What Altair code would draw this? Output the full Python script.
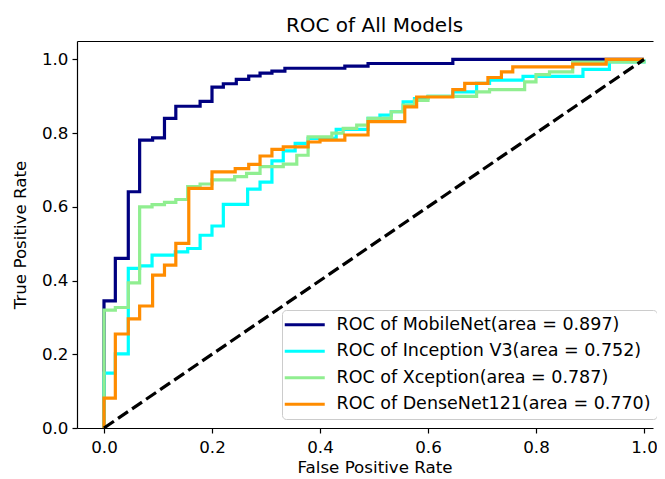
import altair as alt
import pandas as pd

models = [
    "ROC of MobileNet(area = 0.897)",
    "ROC of Inception V3(area = 0.752)",
    "ROC of Xception(area = 0.787)",
    "ROC of DenseNet121(area = 0.770)",
]
colors = ["#000080", "#00ffff", "#90ee90", "#ff8c00"]

fpr_mobilenet = [0, 0, 0.021, 0.021, 0.045, 0.045, 0.066, 0.066, 0.090, 0.090, 0.112, 0.112,
                 0.133, 0.133, 0.178, 0.178, 0.200, 0.200, 0.221, 0.221, 0.245, 0.245, 0.268, 0.268,
                 0.289, 0.289, 0.311, 0.311, 0.335, 0.335, 0.446, 0.446, 0.489, 0.489, 0.646, 0.646, 1.0]
tpr_mobilenet = [0, 0.345, 0.345, 0.460, 0.460, 0.641, 0.641, 0.781, 0.781, 0.787, 0.787, 0.840,
                 0.840, 0.873, 0.873, 0.886, 0.886, 0.925, 0.925, 0.934, 0.934, 0.946, 0.946, 0.955,
                 0.955, 0.963, 0.963, 0.968, 0.968, 0.976, 0.976, 0.982, 0.982, 0.989, 0.989, 1.0, 1.0]

fpr_inception = [0, 0, 0.021, 0.021, 0.045, 0.045, 0.066, 0.066, 0.089, 0.089, 0.132, 0.132,
                 0.155, 0.155, 0.178, 0.178, 0.200, 0.200, 0.221, 0.221, 0.266, 0.266, 0.289, 0.289,
                 0.311, 0.311, 0.332, 0.332, 0.354, 0.354, 0.378, 0.378, 0.430, 0.430, 0.489, 0.489,
                 0.511, 0.511, 0.532, 0.532, 0.554, 0.554, 0.575, 0.575, 0.600, 0.600, 0.646, 0.646,
                 0.690, 0.690, 0.714, 0.714, 0.776, 0.776, 0.887, 0.887, 0.936, 0.936, 1.0, 1.0]
tpr_inception = [0, 0.149, 0.149, 0.201, 0.201, 0.433, 0.433, 0.440, 0.440, 0.469, 0.469, 0.478,
                 0.478, 0.487, 0.487, 0.523, 0.523, 0.548, 0.548, 0.607, 0.607, 0.648, 0.648, 0.667,
                 0.667, 0.725, 0.725, 0.752, 0.752, 0.772, 0.772, 0.786, 0.786, 0.810, 0.810, 0.840,
                 0.840, 0.849, 0.849, 0.858, 0.858, 0.885, 0.885, 0.894, 0.894, 0.900, 0.900, 0.912,
                 0.912, 0.935, 0.935, 0.944, 0.944, 0.954, 0.954, 0.973, 0.973, 0.993, 0.993, 1.0]

fpr_xception = [0, 0, 0.021, 0.021, 0.045, 0.045, 0.066, 0.066, 0.089, 0.089, 0.112, 0.112,
                0.133, 0.133, 0.155, 0.155, 0.178, 0.178, 0.200, 0.200, 0.242, 0.242, 0.264, 0.264,
                0.289, 0.289, 0.332, 0.332, 0.357, 0.357, 0.378, 0.378, 0.422, 0.422, 0.443, 0.443,
                0.468, 0.468, 0.489, 0.489, 0.532, 0.532, 0.554, 0.554, 0.575, 0.575, 0.600, 0.600,
                0.690, 0.690, 0.714, 0.714, 0.779, 0.779, 0.800, 0.800, 0.825, 0.825, 0.868, 0.868,
                1.0, 1.0]
tpr_xception = [0, 0.320, 0.320, 0.327, 0.327, 0.394, 0.394, 0.600, 0.600, 0.606, 0.606, 0.612,
                0.612, 0.620, 0.620, 0.655, 0.655, 0.662, 0.662, 0.673, 0.673, 0.682, 0.682, 0.691,
                0.691, 0.709, 0.709, 0.716, 0.716, 0.740, 0.740, 0.790, 0.790, 0.800, 0.800, 0.813,
                0.813, 0.822, 0.822, 0.840, 0.840, 0.858, 0.858, 0.876, 0.876, 0.889, 0.889, 0.900,
                0.900, 0.912, 0.912, 0.918, 0.918, 0.939, 0.939, 0.959, 0.959, 0.966, 0.966, 0.993,
                0.993, 1.0]

fpr_densenet = [0, 0, 0.021, 0.021, 0.045, 0.045, 0.066, 0.066, 0.090, 0.090, 0.112, 0.112,
                0.133, 0.133, 0.157, 0.157, 0.200, 0.200, 0.243, 0.243, 0.268, 0.268, 0.289, 0.289,
                0.311, 0.311, 0.332, 0.332, 0.378, 0.378, 0.400, 0.400, 0.446, 0.446, 0.489, 0.489,
                0.557, 0.557, 0.579, 0.579, 0.646, 0.646, 0.668, 0.668, 0.711, 0.711, 0.736, 0.736,
                0.757, 0.757, 0.868, 0.868, 0.930, 0.930, 1.0]
tpr_densenet = [0, 0.081, 0.081, 0.255, 0.255, 0.296, 0.296, 0.331, 0.331, 0.415, 0.415, 0.442,
                0.442, 0.501, 0.501, 0.650, 0.650, 0.695, 0.695, 0.704, 0.704, 0.715, 0.715, 0.738,
                0.738, 0.756, 0.756, 0.763, 0.763, 0.776, 0.776, 0.781, 0.781, 0.795, 0.795, 0.831,
                0.831, 0.871, 0.871, 0.898, 0.898, 0.918, 0.918, 0.935, 0.935, 0.951, 0.951, 0.966,
                0.966, 0.980, 0.980, 0.987, 0.987, 1.0, 1.0]

diag_fpr = [0.0, 1.0]
diag_tpr = [0.0, 1.0]

tick_values = [0.0, 0.2, 0.4, 0.6, 0.8, 1.0]

series = [
    (models[0], fpr_mobilenet, tpr_mobilenet),
    (models[1], fpr_inception, tpr_inception),
    (models[2], fpr_xception, tpr_xception),
    (models[3], fpr_densenet, tpr_densenet),
]
rows = []
idx = 0
for name, fx, ty in series:
    assert len(fx) == len(ty), name
    for a, b in zip(fx, ty):
        rows.append({"model": name, "fpr": a, "tpr": b, "idx": idx})
        idx += 1
df = pd.DataFrame(rows)
diag_df = pd.DataFrame({"fpr": diag_fpr, "tpr": diag_tpr})

FONT = "DejaVu Sans"
xscale = alt.Scale(domain=[-0.05, 1.0167], nice=False, zero=False)
yscale = alt.Scale(domain=[0, 1.05], nice=False, zero=False)

y_axis = alt.Axis(values=tick_values, format=".1f", title="True Positive Rate",
                  titleX=-57, titleBaseline="middle")

lines = alt.Chart(df).mark_line(strokeWidth=3.2, interpolate="linear").encode(
    x=alt.X("fpr:Q", scale=xscale,
            axis=alt.Axis(values=tick_values, format=".1f", title="False Positive Rate",
                          titleY=44, titleX=297.5, titleAlign="center",
                          titleBaseline="alphabetic")),
    y=alt.Y("tpr:Q", scale=yscale, axis=y_axis),
    color=alt.Color("model:N", scale=alt.Scale(domain=models, range=colors),
                    legend=alt.Legend(orient="none", legendX=205, legendY=269, title=None,
                                      symbolType="M-4,0L4,0", symbolSize=100,
                                      symbolStrokeWidth=3.2, symbolOffset=8,
                                      labelOffset=23, labelFontSize=17.5, labelFont=FONT,
                                      labelColor="black", labelLimit=500,
                                      rowPadding=7.5, padding=6,
                                      strokeColor="#cccccc", fillColor="white",
                                      cornerRadius=4)),
    order=alt.Order("idx:Q"),
    detail="model:N",
)

diag = alt.Chart(diag_df).mark_line(color="black", strokeWidth=3.2, strokeDash=[12, 5]).encode(
    x=alt.X("fpr:Q", scale=xscale,
            axis=alt.Axis(orient="top", labels=False, ticks=False, title=None, domain=True)),
    y=alt.Y("tpr:Q", scale=yscale, axis=y_axis),
)

chart = alt.layer(lines, diag).resolve_axis(x="independent").properties(
    width=576, height=387,
    autosize=alt.AutoSizeParams(type="none"),
    padding={"left": 69, "top": 33, "right": 4, "bottom": 50},
    title=alt.TitleParams("ROC of All Models", fontSize=20, font=FONT, fontWeight="normal",
                          color="black", offset=5, anchor="middle", frame="group", dx=9.5),
).configure_view(strokeWidth=0).configure_axis(
    grid=False, domainColor="black", domainWidth=1.2, tickColor="black", tickWidth=1.2,
    tickSize=5, labelFont=FONT, labelFontSize=16.7, labelColor="black",
    titleFont=FONT, titleFontSize=16.7, titleFontWeight="normal", titleColor="black",
).configure_axisX(labelPadding=6).configure_axisY(labelPadding=4)

chart.save("out.html", embed_options={"renderer": "svg", "actions": False})
